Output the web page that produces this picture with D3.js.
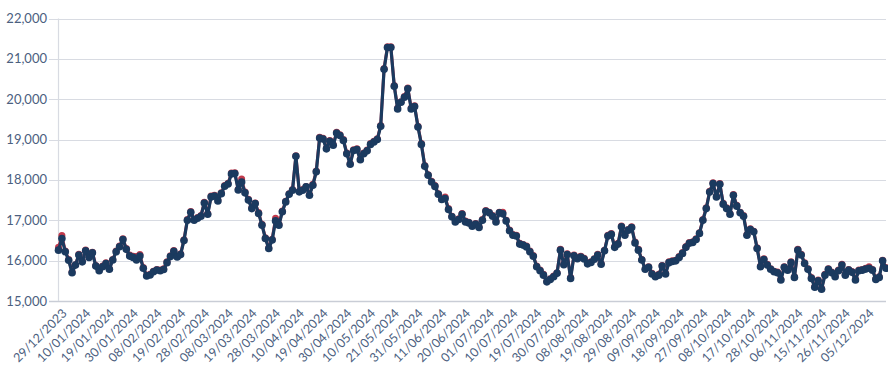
<!DOCTYPE html>
<html>
<head>
<meta charset="utf-8">
<script src="https://cdn.jsdelivr.net/npm/d3@7/dist/d3.min.js"></script>
<style>
  html, body { margin: 0; padding: 0; background: #ffffff; }
  svg { display: block; }
  text { font-family: Lato, "Open Sans", sans-serif; fill: #4b6080; }
</style>
</head>
<body>
<svg id="chart" width="888" height="365"></svg>
<script>
// Trading dates (categories)
const dates = [
"29/12/2023",
"02/01/2024","03/01/2024","04/01/2024","05/01/2024","08/01/2024","09/01/2024","10/01/2024","11/01/2024","12/01/2024","15/01/2024","16/01/2024","17/01/2024","18/01/2024","19/01/2024","22/01/2024","23/01/2024","24/01/2024","25/01/2024","26/01/2024","29/01/2024","30/01/2024","31/01/2024",
"01/02/2024","02/02/2024","05/02/2024","06/02/2024","07/02/2024","08/02/2024","09/02/2024","12/02/2024","13/02/2024","14/02/2024","15/02/2024","16/02/2024","19/02/2024","20/02/2024","21/02/2024","22/02/2024","23/02/2024","26/02/2024","27/02/2024","28/02/2024","29/02/2024",
"01/03/2024","04/03/2024","05/03/2024","06/03/2024","07/03/2024","08/03/2024","11/03/2024","12/03/2024","13/03/2024","14/03/2024","15/03/2024","18/03/2024","19/03/2024","20/03/2024","21/03/2024","22/03/2024","25/03/2024","26/03/2024","27/03/2024","28/03/2024",
"02/04/2024","03/04/2024","04/04/2024","05/04/2024","08/04/2024","09/04/2024","10/04/2024","11/04/2024","12/04/2024","15/04/2024","16/04/2024","17/04/2024","18/04/2024","19/04/2024","22/04/2024","23/04/2024","24/04/2024","25/04/2024","26/04/2024","29/04/2024","30/04/2024",
"01/05/2024","02/05/2024","03/05/2024","07/05/2024","08/05/2024","09/05/2024","10/05/2024","13/05/2024","14/05/2024","15/05/2024","16/05/2024","17/05/2024","20/05/2024","21/05/2024","22/05/2024","23/05/2024","24/05/2024","28/05/2024","29/05/2024","30/05/2024","31/05/2024",
"03/06/2024","04/06/2024","05/06/2024","06/06/2024","07/06/2024","10/06/2024","11/06/2024","12/06/2024","13/06/2024","14/06/2024","17/06/2024","18/06/2024","19/06/2024","20/06/2024","21/06/2024","24/06/2024","25/06/2024","26/06/2024","27/06/2024","28/06/2024",
"01/07/2024","02/07/2024","03/07/2024","04/07/2024","05/07/2024","08/07/2024","09/07/2024","10/07/2024","11/07/2024","12/07/2024","15/07/2024","16/07/2024","17/07/2024","18/07/2024","19/07/2024","22/07/2024","23/07/2024","24/07/2024","25/07/2024","26/07/2024","29/07/2024","30/07/2024","31/07/2024",
"01/08/2024","02/08/2024","05/08/2024","06/08/2024","07/08/2024","08/08/2024","09/08/2024","12/08/2024","13/08/2024","14/08/2024","15/08/2024","16/08/2024","19/08/2024","20/08/2024","21/08/2024","22/08/2024","23/08/2024","27/08/2024","28/08/2024","29/08/2024","30/08/2024",
"02/09/2024","03/09/2024","04/09/2024","05/09/2024","06/09/2024","09/09/2024","10/09/2024","11/09/2024","12/09/2024","13/09/2024","16/09/2024","17/09/2024","18/09/2024","19/09/2024","20/09/2024","23/09/2024","24/09/2024","25/09/2024","26/09/2024","27/09/2024","30/09/2024",
"01/10/2024","02/10/2024","03/10/2024","04/10/2024","07/10/2024","08/10/2024","09/10/2024","10/10/2024","11/10/2024","14/10/2024","15/10/2024","16/10/2024","17/10/2024","18/10/2024","21/10/2024","22/10/2024","23/10/2024","24/10/2024","25/10/2024","28/10/2024","29/10/2024","30/10/2024","31/10/2024",
"01/11/2024","04/11/2024","05/11/2024","06/11/2024","07/11/2024","08/11/2024","11/11/2024","12/11/2024","13/11/2024","14/11/2024","15/11/2024","18/11/2024","19/11/2024","20/11/2024","21/11/2024","22/11/2024","25/11/2024","26/11/2024","27/11/2024","28/11/2024","29/11/2024",
"02/12/2024","03/12/2024","04/12/2024","05/12/2024","06/12/2024","09/12/2024","10/12/2024","11/12/2024","12/12/2024","13/12/2024"
];

// Main series (navy)
const navyValues = [
16260,16550,16220,16010,15700,15890,16140,15970,16245,16080,
16195,15865,15750,15850,15930,15785,16015,16220,16343,16525,
16280,16113,16080,16015,16113,15810,15620,15643,15725,15767,
15750,15780,15950,16100,16230,16090,16150,16500,17000,17200,
17000,17050,17100,17430,17150,17580,17600,17480,17660,17845,
17900,18150,18160,17750,17950,17680,17500,17290,17415,17170,
16880,16550,16300,16510,16985,16880,17210,17455,17645,17745,
18585,17705,17745,17827,17620,17870,18200,19040,19015,18770,
18960,18860,19160,19100,18980,18650,18390,18730,18750,18500,
18650,18720,18880,18940,19000,19330,20740,21280,21280,20320,
19760,19925,20050,20260,19760,19820,19310,18880,18340,18115,
17950,17840,17645,17515,17540,17268,17085,16960,17020,17150,
16960,16935,16855,16905,16820,17000,17225,17185,17100,16960,
17185,17160,16985,16740,16630,16610,16410,16385,16340,16220,
16110,15850,15750,15640,15475,15535,15600,15685,16260,15900,
16150,15560,16120,16050,16090,16040,15920,15955,16035,16140,
15910,16245,16610,16650,16330,16410,16840,16630,16755,16820,
16440,16260,16015,15785,15835,15670,15600,15640,15865,15670,
15950,15980,15995,16080,16180,16330,16430,16450,16525,16675,
17000,17290,17700,17910,17580,17890,17400,17290,17150,17620,
17350,17185,17100,16630,16770,16715,16300,15850,16030,15890,
15785,15725,15700,15520,15835,15765,15950,15585,16260,16140,
15930,15785,15560,15340,15500,15290,15640,15785,15700,15600,
15750,15890,15640,15765,15710,15520,15750,15765,15790,15810,
15765,15535,15585,15995,15810
];

// Second series (red), drawn underneath
const redValues = [
16330,16620,16240,16030,15720,15900,16160,15990,16265,16100,
16210,15880,15770,15870,15950,15800,16030,16240,16360,16540,
16300,16140,16110,16100,16150,15830,15640,15660,15740,15780,
15770,15800,15970,16120,16250,16110,16170,16520,17020,17220,
17020,17070,17120,17450,17170,17600,17620,17500,17680,17860,
17920,18170,18180,17770,18020,17700,17520,17310,17430,17190,
16900,16570,16320,16530,17050,16900,17230,17470,17660,17760,
18600,17720,17760,17840,17640,17890,18220,19060,19030,18790,
18980,18880,19180,19120,19000,18670,18410,18750,18770,18520,
18670,18740,18900,18960,19020,19350,20760,21300,21300,20340,
19780,19940,20070,20280,19780,19840,19330,18900,18360,18130,
17970,17860,17660,17530,17580,17290,17100,16980,17040,17170,
16980,16950,16870,16920,16840,17020,17240,17200,17120,16980,
17200,17200,17000,16760,16650,16630,16430,16400,16360,16240,
16130,15870,15770,15660,15490,15550,15620,15700,16280,15920,
16170,15580,16140,16070,16110,16060,15940,15970,16050,16160,
15930,16260,16630,16670,16350,16430,16860,16650,16770,16840,
16460,16280,16030,15800,15850,15690,15620,15660,15880,15690,
15970,16000,16010,16100,16200,16350,16450,16470,16540,16690,
17020,17310,17720,17930,17600,17910,17420,17310,17170,17640,
17370,17200,17120,16650,16790,16730,16320,15870,16050,15910,
15800,15740,15720,15540,15850,15780,15970,15600,16280,16160,
15950,15800,15580,15360,15520,15310,15660,15800,15720,15620,
15770,15910,15660,15780,15730,15540,15770,15780,15810,15850,
15780,15550,15600,16010,15830
];

const yTicks = [15000, 16000, 17000, 18000, 19000, 20000, 21000, 22000];
const xTickLabels = [
"29/12/2023","10/01/2024","19/01/2024","30/01/2024","08/02/2024","19/02/2024","28/02/2024",
"08/03/2024","19/03/2024","28/03/2024","10/04/2024","19/04/2024","30/04/2024","10/05/2024",
"21/05/2024","31/05/2024","11/06/2024","20/06/2024","01/07/2024","10/07/2024","19/07/2024",
"30/07/2024","08/08/2024","19/08/2024","29/08/2024","09/09/2024","18/09/2024","27/09/2024",
"08/10/2024","17/10/2024","28/10/2024","06/11/2024","15/11/2024","26/11/2024","05/12/2024"
];

const svg = d3.select("#chart");
const plotLeft = 58.5, plotRight = 886, plotTop = 18.5, plotBottom = 301;

const x = d3.scalePoint().domain(dates).range([plotLeft, plotRight]);
const y = d3.scaleLinear().domain([15000, 22000]).range([plotBottom, plotTop]);

// gridlines
svg.append("g").selectAll("line").data(yTicks).join("line")
  .attr("x1", 49).attr("x2", plotRight)
  .attr("y1", d => Math.round(y(d)) + 0.5).attr("y2", d => Math.round(y(d)) + 0.5)
  .attr("stroke", d => d === 15000 ? "#c9cdd6" : "#d8dbe2")
  .attr("stroke-width", d => d === 15000 ? 1.5 : 1.2);

// vertical axis line
svg.append("line")
  .attr("x1", plotLeft).attr("x2", plotLeft)
  .attr("y1", y(22000)).attr("y2", plotBottom)
  .attr("stroke", "#d8dbe2").attr("stroke-width", 1.2);

// y labels
svg.append("g").selectAll("text").data(yTicks).join("text")
  .attr("x", 47).attr("y", d => y(d))
  .attr("dy", "0.35em")
  .attr("text-anchor", "end")
  .attr("font-size", 13)
  .text(d => d3.format(",")(d));

// x labels
svg.append("g").selectAll("text").data(xTickLabels).join("text")
  .attr("transform", d => `translate(${x(d) + 6},${plotBottom + 10}) rotate(-45)`)
  .attr("text-anchor", "end")
  .attr("dy", "0.35em")
  .attr("font-size", 12.5)
  .text(d => d);

const redData = dates.map((d, i) => ({ d, v: redValues[i] }));
const navyData = dates.map((d, i) => ({ d, v: navyValues[i] }));
const line = d3.line().x(p => x(p.d)).y(p => y(p.v));

const red = "#c23a4c", navy = "#1b3a5f";

svg.append("path").datum(redData).attr("d", line)
  .attr("fill", "none").attr("stroke", red).attr("stroke-width", 3).attr("stroke-linejoin", "round");
svg.append("g").selectAll("circle").data(redData).join("circle")
  .attr("cx", p => x(p.d)).attr("cy", p => y(p.v)).attr("r", 3.5).attr("fill", red);

svg.append("path").datum(navyData).attr("d", line)
  .attr("fill", "none").attr("stroke", navy).attr("stroke-width", 3.2).attr("stroke-linejoin", "round");
svg.append("g").selectAll("circle").data(navyData).join("circle")
  .attr("cx", p => x(p.d)).attr("cy", p => y(p.v)).attr("r", 3.8).attr("fill", navy);
</script>
</body>
</html>
